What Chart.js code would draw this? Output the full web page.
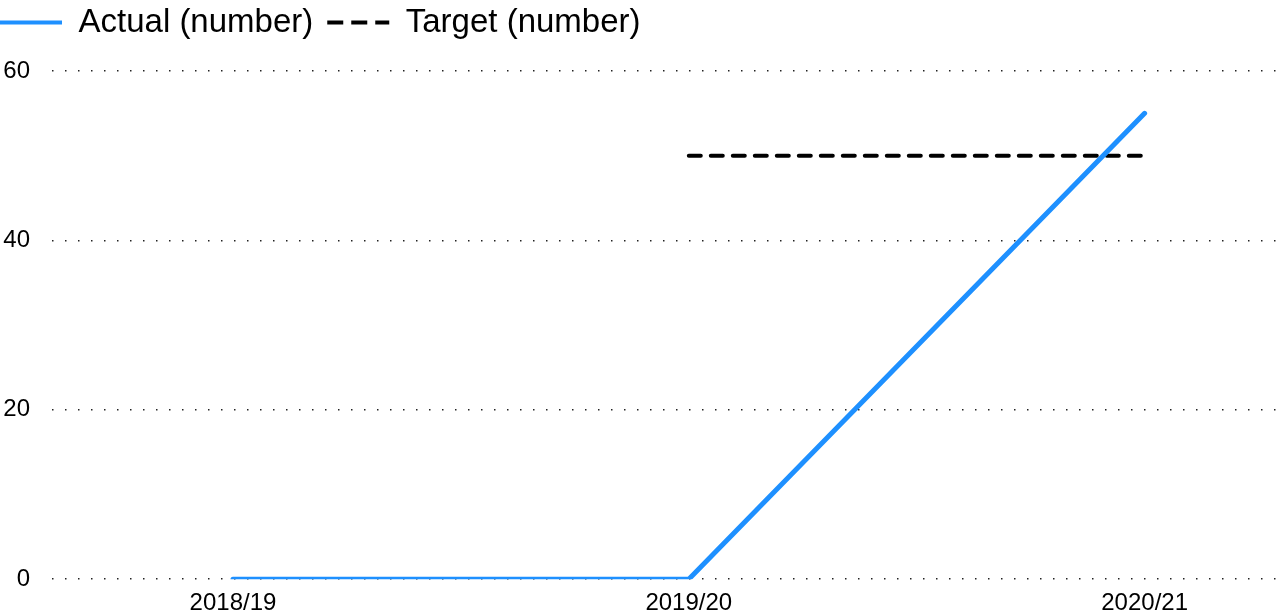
<!DOCTYPE html>
<html>
<head>
<meta charset="utf-8">
<script src="https://cdn.jsdelivr.net/npm/chart.js@4/dist/chart.umd.min.js"></script>
<style>
  html, body { margin: 0; padding: 0; background: #fff; overflow: hidden; }
  #wrap { width: 1294px; height: 628px; margin-left: -14px; margin-top: -8px; }
</style>
</head>
<body>
<div id="wrap"><canvas id="lineChart"></canvas></div>
<script>
const years = ["2018/19", "2019/20", "2020/21"];
const actual = [0, 0, 55];
const target = [null, 50, 50];
const yTicks = [0, 20, 40, 60];

const FONT = "Liberation Sans, Arial, sans-serif";

function toPoints(arr) {
  return arr.map((v, i) => ({ x: i, y: v }));
}

// extra space under the legend
const legendGap = {
  id: "legendGap",
  beforeInit(chart) {
    const fit = chart.legend.fit;
    chart.legend.fit = function () {
      fit.bind(chart.legend)();
      this.height += 22;
    };
  }
};

new Chart(document.getElementById("lineChart"), {
  type: "line",
  data: {
    datasets: [{
      label: "Actual (number)",
      data: toPoints(actual),
      borderColor: "#1e90ff",
      backgroundColor: "#1e90ff",
      borderWidth: 5,
      pointRadius: 0,
      pointStyle: "line",
      borderCapStyle: "round",
      fill: false
    }, {
      label: "Target (number)",
      data: toPoints(target),
      borderColor: "#000",
      backgroundColor: "#000",
      borderWidth: 4,
      borderDash: [12, 10],
      borderCapStyle: "round",
      pointRadius: 0,
      pointStyle: "line",
      fill: false
    }]
  },
  plugins: [legendGap],
  options: {
    responsive: true,
    maintainAspectRatio: false,
    animation: false,
    plugins: {
      tooltip: { enabled: false },
      legend: {
        align: "start",
        labels: {
          usePointStyle: true,
          pointStyleWidth: 62,
          boxHeight: 4,
          padding: 14,
          color: "#000",
          font: { family: FONT, size: 33 },
          generateLabels: (chart) => {
            const items = Chart.defaults.plugins.legend.labels.generateLabels(chart);
            items.forEach((it, i) => {
              const ds = chart.data.datasets[i];
              it.lineDash = ds.borderDash ? [16, 8] : [];
              it.lineWidth = 4;
              it.lineCap = "butt";
              it.strokeStyle = ds.borderColor;
            });
            return items;
          }
        }
      }
    },
    scales: {
      x: {
        type: "linear",
        min: -0.397,
        max: 2.297,
        afterBuildTicks: (axis) => { axis.ticks = years.map((_, i) => ({ value: i })); },
        ticks: {
          callback: (v) => years[v],
          color: "#000",
          maxRotation: 0,
          padding: 2,
          font: { family: FONT, size: 24 }
        },
        grid: { display: false },
        border: { display: false }
      },
      y: {
        min: 0,
        max: 60,
        afterBuildTicks: (axis) => { axis.ticks = yTicks.map(v => ({ value: v })); },
        afterFit: (axis) => { axis.width = 66; },
        ticks: {
          color: "#000",
          padding: 22,
          font: { family: FONT, size: 24 }
        },
        grid: {
          color: "#222",
          lineWidth: 1.5,
          drawTicks: false
        },
        border: { display: false, dash: [1.5, 11.5] }
      }
    }
  }
});
</script>
</body>
</html>
